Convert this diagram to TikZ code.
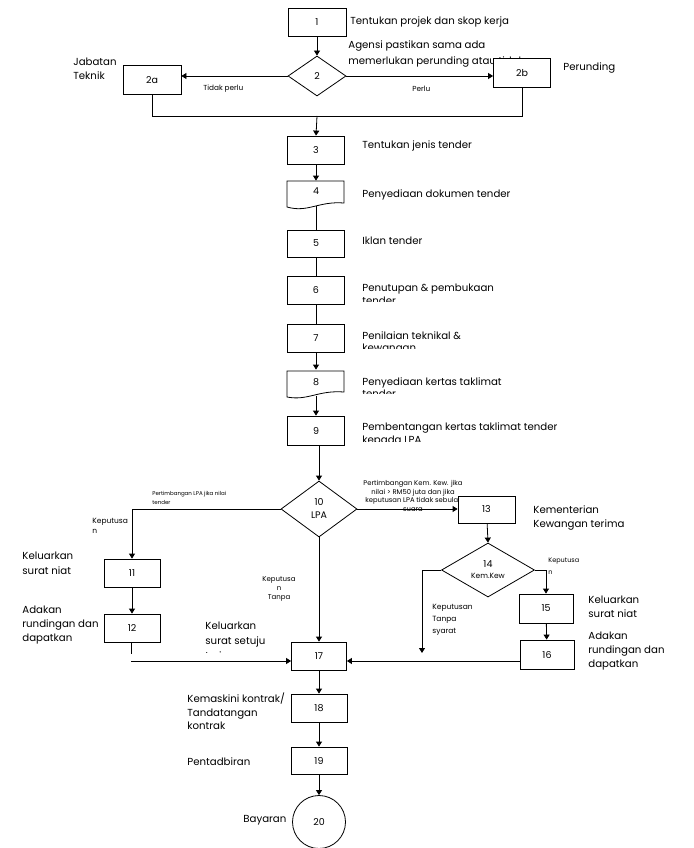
\documentclass[tikz,border=0pt]{standalone}
\usepackage{fontspec}
\setmainfont{Poppins}
\usetikzlibrary{arrows.meta,shapes.geometric}
\begin{document}
\begin{tikzpicture}[x=1pt,y=-1pt,
  line width=0.8pt,
  box/.style={draw,fill=white,minimum width=57pt,minimum height=28pt,inner sep=0pt,font=\fontsize{9.5}{10}\selectfont},
  ghost/.style={minimum width=57pt,inner sep=0pt,font=\fontsize{9.5}{10}\selectfont},
  dia/.style={draw,fill=white,diamond,inner sep=0pt,font=\fontsize{9.5}{13}\selectfont,align=center},
  lab/.style={anchor=west,inner sep=0pt,align=left,font=\fontsize{10.2}{14}\selectfont},
  tiny/.style={anchor=west,inner sep=0pt,align=left,font=\fontsize{7}{9}\selectfont},
  arr/.style={-{Triangle[length=5pt,width=6pt]}},
]
\useasboundingbox (0,0) rectangle (693,848);

% ---------- top texts ----------
\node[lab] (t1) at (350,22) {Tentukan projek dan skop kerja};
\node[lab,font=\fontsize{10.2}{16}\selectfont] (t2) at (348,54) {Agensi pastikan sama ada\\memerlukan perunding atau tidak};
\node[lab] (t2a) at (73,69) {Jabatan\\Teknik};
\node[lab] (tper) at (563,68) {Perunding};
\node[tiny,font=\fontsize{7.3}{9}\selectfont] (ttidak) at (203,89) {Tidak perlu};
\node[tiny,font=\fontsize{7.3}{9}\selectfont] (tperlu) at (412,89) {Perlu};

% ---------- top nodes ----------
\node[box,minimum width=58pt] (b1) at (317,22) {1};
\node[dia,minimum width=58pt,minimum height=40pt] (d2) at (317,76) {2};
\node[box,minimum width=58pt,minimum height=29pt] (b2a) at (152,80) {2a};
\node[box,minimum width=57pt,minimum height=29pt] (b2b) at (522,73) {2b};
\coordinate (j) at (317,116);

\draw[arr] (b1) -- (d2);
\draw[arr] (d2.west) -- (b2a.east |- d2.west);
\draw[arr] (d2.east) -- (b2b.west |- d2.east);
\draw (b2a.south) -- (b2a.south |- j) -- (b2b.south |- j) -- (b2b.south);

% ---------- column ----------
\node[box] (b3) at (316,150) {3};
\node[ghost,minimum height=25pt] (b4) at (316,193.5) {};
\draw (287,181) -- (344,181) -- (344,203) .. controls (318,201) and (308,213) .. (287,207) -- cycle;
\node[inner sep=0pt,font=\fontsize{9.5}{10}\selectfont] (n4) at (316,191) {4};
\node[box,minimum height=27pt] (b5) at (316,243.5) {5};
\node[box] (b6) at (316,290) {6};
\node[box] (b7) at (316,338.5) {7};
\node[ghost,minimum height=26pt] (b8) at (316,383) {};
\draw (287,371) -- (344,371) -- (344,392) .. controls (318,390) and (308,401) .. (287,397) -- cycle;
\node[inner sep=0pt,font=\fontsize{9.5}{10}\selectfont] (n8) at (316,382) {8};
\node[box,minimum height=29pt] (b9) at (316,430.5) {9};

\node[lab] (t3) at (362,146) {Tentukan jenis tender};
\node[lab] (t4) at (362,195) {Penyediaan dokumen tender};
\node[lab] (t5) at (362,241) {Iklan tender};
\begin{scope}
  \clip (355,270) rectangle (650,301);
  \node[lab,font=\fontsize{10.2}{13}\selectfont] (t6) at (362,294.5) {Penutupan \& pembukaan\\tender};
\end{scope}
\begin{scope}
  \clip (355,320) rectangle (650,348.5);
  \node[lab,font=\fontsize{10.2}{12}\selectfont] (t7) at (362,343) {Penilaian teknikal \&\\kewangan};
\end{scope}
\begin{scope}
  \clip (355,365) rectangle (650,393);
  \node[lab,font=\fontsize{10.2}{12}\selectfont] (t8) at (362,388) {Penyediaan kertas taklimat\\tender};
\end{scope}
\begin{scope}
  \clip (355,410) rectangle (690,441);
  \node[lab,font=\fontsize{10.2}{13}\selectfont] (t9) at (362,434.5) {Pembentangan kertas taklimat tender\\kepada LPA};
\end{scope}

\draw[arr] (j) -- (b3.north);
\draw[arr] (b3) -- (b4.north);
\draw (b4.south) -- (b5.north);
\draw (b5) -- (b6);
\draw (b6) -- (b7);
\draw[arr] (b7) -- (b8.north);
\draw[arr] (b8.south) -- (b9.north);

% ---------- LPA ----------
\node[dia,minimum width=76pt,minimum height=56pt] (d10) at (319,509) {10\\LPA};
\draw[arr] (b9.south -| d10) -- (d10.north);

\node[tiny,font=\fontsize{5.5}{9}\selectfont] (tpl) at (152,498) {Pertimbangan LPA jika nilai\\tender};
\node[tiny,font=\fontsize{7.5}{10}\selectfont] (tk1) at (92,526) {Keputusa\\n};
\node[tiny,align=center,anchor=center,font=\fontsize{7}{9}\selectfont] (tk2) at (279,589) {Keputusa\\n\\Tanpa};
\node[tiny,align=center,anchor=center,font=\fontsize{6.8}{8.5}\selectfont] (tpk) at (413,496) {Pertimbangan Kem. Kew. jika\\nilai > RM50 juta dan jika\\keputusan LPA tidak sebulat\\suara};

\node[box,minimum width=56pt] (b11) at (132,573) {11};
\node[box,minimum width=56pt] (b12) at (132,628) {12};
\node[box,minimum height=27pt] (b13) at (486.5,509.5) {13};
\node[dia,minimum width=93pt,minimum height=54pt,font=\fontsize{9.5}{14}\selectfont] (d14) at (488,570) {14\\[-3pt]{\fontsize{7.5}{8}\selectfont Kem.Kew}};
\node[box,minimum width=54pt,minimum height=29pt] (b15) at (546,608.5) {15};
\node[box,minimum width=54pt,minimum height=29pt] (b16) at (547,654.5) {16};
\node[box,minimum width=55pt] (b17) at (319,656) {17};
\node[box,minimum width=56pt] (b18) at (319,708) {18};
\node[box,minimum width=56pt,minimum height=27pt] (b19) at (319,760.5) {19};
\node[draw,circle,minimum size=53pt,inner sep=0pt,font=\fontsize{9.5}{10}\selectfont] (c20) at (319,822) {20};

\coordinate (m) at (0,661);
\coordinate (l12) at (131,654);
\coordinate (l12b) at (131,661);
\coordinate (k14) at (422,653);

\draw[arr] (d10.west) -| (b11.north);
\draw[arr] (d10.east) -- (b13.west |- d10.east);
\draw[arr] (d10.south) -- (b17.north);
\draw[arr] (b11) -- (b12);
\draw (b12.south -| l12) -- (l12);
\draw[arr] (l12b) -- (b17.west |- m);
\draw[arr] (b13) -- (d14.north);
\draw[arr] (d14.west) -| (k14);
\draw[arr] (d14.east) -| (b15.north);
\draw[arr] (b15) -- (b16);
\draw[arr] (b16.west |- m) -- (b17.east |- m);
\draw[arr] (b17) -- (b18);
\draw[arr] (b18) -- (b19);
\draw[arr] (b19) -- (c20);

% ---------- lower texts ----------
\node[lab,font=\fontsize{10.2}{15}\selectfont] (t11) at (22,563.5) {Keluarkan\\surat niat};
\node[lab] (t12) at (22,625) {Adakan\\rundingan dan\\dapatkan};
\begin{scope}
  \clip (195,615) rectangle (290,652);
  \node[lab,font=\fontsize{10.2}{15}\selectfont] (tsj) at (205,641) {Keluarkan\\surat setuju\\terima};
\end{scope}
\begin{scope}
  \clip (525,500) rectangle (690,531);
  \node[lab] (t13) at (533,525) {Kementerian\\Kewangan terima\\syor};
\end{scope}
\node[tiny,font=\fontsize{7.5}{12}\selectfont] (tk3) at (432,620) {Keputusan\\Tanpa\\syarat};
\node[tiny,font=\fontsize{6.5}{12}\selectfont] (tk4) at (548,566) {Keputusa\\n};
\node[lab] (t15) at (588,607) {Keluarkan\\surat niat};
\node[lab] (t16) at (588,651) {Adakan\\rundingan dan\\dapatkan};
\node[lab,font=\fontsize{10.2}{13.5}\selectfont] (t18) at (187,711.5) {Kemaskini kontrak/\\Tandatangan\\kontrak};
\node[lab] (t19) at (187,762) {Pentadbiran};
\node[lab] (t20) at (243,820) {Bayaran};
\end{tikzpicture}
\end{document}
